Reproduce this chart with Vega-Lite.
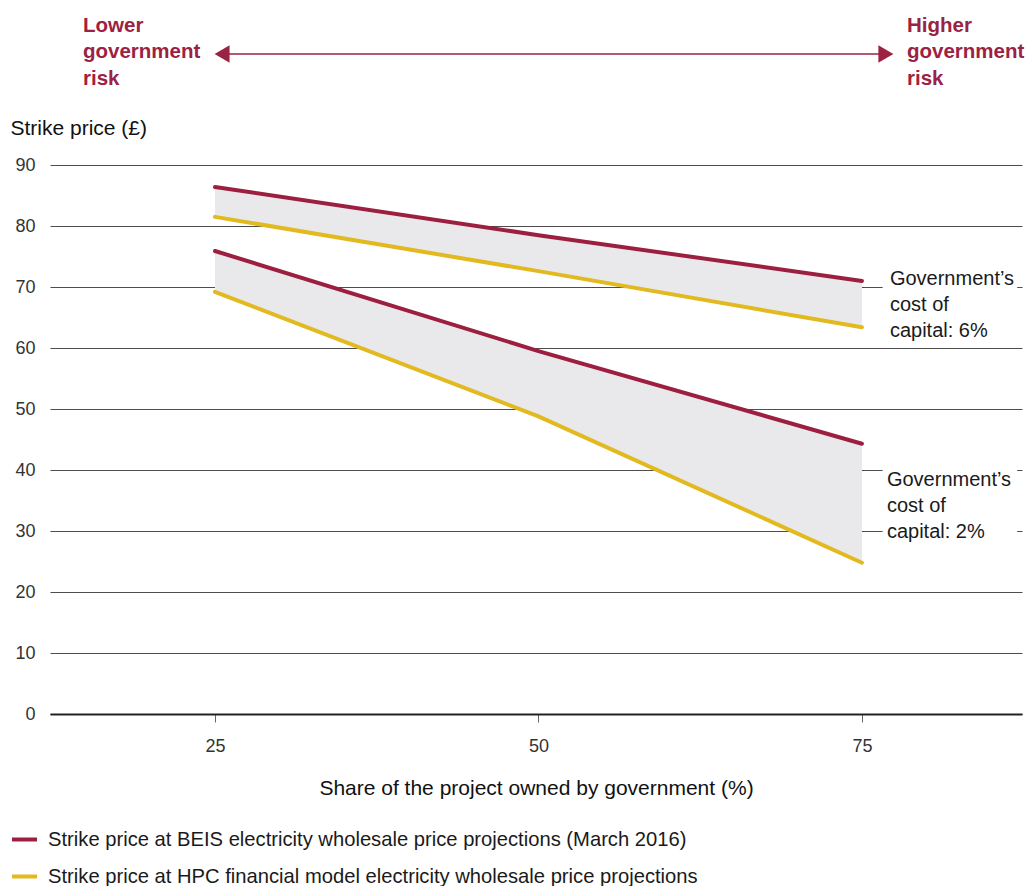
{
  "$schema": "https://vega.github.io/schema/vega-lite/v6.json",
  "width": 972,
  "height": 549,
  "autosize": {"type": "none"},
  "padding": {"left": 50, "top": 165, "right": 3, "bottom": 172},
  "background": "white",
  "config": {
    "font": "Liberation Sans",
    "view": {"stroke": null}
  },
  "data": {
    "values": [
      {"share": 25, "capital": "6%", "series": "BEIS", "price": 86.4},
      {"share": 50, "capital": "6%", "series": "BEIS", "price": 78.5},
      {"share": 75, "capital": "6%", "series": "BEIS", "price": 71.0},
      {"share": 25, "capital": "6%", "series": "HPC", "price": 81.5},
      {"share": 50, "capital": "6%", "series": "HPC", "price": 72.6},
      {"share": 75, "capital": "6%", "series": "HPC", "price": 63.4},
      {"share": 25, "capital": "2%", "series": "BEIS", "price": 75.9},
      {"share": 50, "capital": "2%", "series": "BEIS", "price": 59.5},
      {"share": 75, "capital": "2%", "series": "BEIS", "price": 44.3},
      {"share": 25, "capital": "2%", "series": "HPC", "price": 69.2},
      {"share": 50, "capital": "2%", "series": "HPC", "price": 48.8},
      {"share": 75, "capital": "2%", "series": "HPC", "price": 24.8}
    ]
  },
  "layer": [
    {
      "transform": [
        {"pivot": "series", "value": "price", "groupby": ["share", "capital"]}
      ],
      "mark": {"type": "area", "color": "#e9e9ec", "clip": false},
      "encoding": {
        "x": {
          "field": "share",
          "type": "quantitative",
          "scale": {"domain": [12.25, 87.37], "nice": false, "zero": false},
          "axis": {
            "values": [25, 50, 75],
            "grid": false,
            "domainColor": "#222222",
            "domainWidth": 2,
            "tickColor": "#666666",
            "tickSize": 8,
            "tickWidth": 1,
            "labelPadding": 15,
            "labelFontSize": 18,
            "labelColor": "#333333",
            "title": "Share of the project owned by government (%)",
            "titleFontSize": 21,
            "titleFontWeight": "normal",
            "titleColor": "#111111",
            "titlePadding": 22
          }
        },
        "y": {
          "field": "HPC",
          "type": "quantitative",
          "scale": {"domain": [0, 90], "nice": false},
          "axis": {
            "values": [0, 10, 20, 30, 40, 50, 60, 70, 80, 90],
            "grid": true,
            "gridColor": "#4d4d4d",
            "gridWidth": 1,
            "domain": false,
            "ticks": false,
            "tickSize": 0,
            "labelPadding": 15,
            "labelFontSize": 18,
            "labelColor": "#333333",
            "title": "Strike price (£)",
            "titleAngle": 0,
            "titleAlign": "left",
            "titleBaseline": "middle",
            "titleX": -40,
            "titleY": -37,
            "titleFontSize": 21,
            "titleFontWeight": "normal",
            "titleColor": "#111111"
          }
        },
        "y2": {"field": "BEIS"},
        "detail": {"field": "capital"}
      }
    },
    {
      "mark": {"type": "line", "strokeWidth": 4, "strokeCap": "round", "clip": false},
      "encoding": {
        "x": {"field": "share", "type": "quantitative"},
        "y": {"field": "price", "type": "quantitative"},
        "color": {
          "field": "series",
          "type": "nominal",
          "scale": {"domain": ["BEIS", "HPC"], "range": ["#9c1f40", "#e2b91f"]},
          "legend": {
            "orient": "none",
            "legendX": -40,
            "legendY": 660,
            "title": null,
            "symbolType": "stroke",
            "symbolSize": 625,
            "symbolStrokeWidth": 4,
            "labelFontSize": 20.2,
            "labelColor": "#1a1a1a",
            "labelLimit": 0,
            "labelOffset": 9,
            "rowPadding": 12,
            "labelExpr": "datum.label == 'BEIS' ? 'Strike price at BEIS electricity wholesale price projections (March 2016)' : 'Strike price at HPC financial model electricity wholesale price projections'"
          }
        },
        "detail": {"field": "capital"}
      }
    },
    {
      "data": {"values": [{}]},
      "mark": {"type": "rect", "color": "white", "clip": false},
      "encoding": {
        "x": {"datum": 76.6, "type": "quantitative"},
        "x2": {"datum": 87.0},
        "y": {"datum": 72, "type": "quantitative"},
        "y2": {"datum": 68}
      }
    },
    {
      "data": {"values": [{}]},
      "mark": {"type": "rect", "color": "white", "clip": false},
      "encoding": {
        "x": {"datum": 76.6, "type": "quantitative"},
        "x2": {"datum": 87.0},
        "y": {"datum": 41.5, "type": "quantitative"},
        "y2": {"datum": 28.5}
      }
    },
    {
      "data": {"values": [{}]},
      "mark": {"type": "text", "align": "left", "baseline": "middle", "fontSize": 20, "lineHeight": 26, "color": "#1a1a1a", "clip": false},
      "encoding": {
        "x": {"datum": 77.16, "type": "quantitative"},
        "y": {"datum": 71.23, "type": "quantitative"},
        "text": {"value": ["Government’s", "cost of", "capital: 6%"]}
      }
    },
    {
      "data": {"values": [{}]},
      "mark": {"type": "text", "align": "left", "baseline": "middle", "fontSize": 20, "lineHeight": 26, "color": "#1a1a1a", "clip": false},
      "encoding": {
        "x": {"datum": 76.93, "type": "quantitative"},
        "y": {"datum": 38.35, "type": "quantitative"},
        "text": {"value": ["Government’s", "cost of", "capital: 2%"]}
      }
    },
    {
      "data": {"values": [{}]},
      "mark": {"type": "rule", "color": "#9b2242", "strokeWidth": 1.5, "clip": false},
      "encoding": {
        "x": {"datum": 25.6, "type": "quantitative"},
        "x2": {"datum": 76.85},
        "y": {"datum": 108.2, "type": "quantitative"}
      }
    },
    {
      "data": {"values": [{}]},
      "mark": {"type": "point", "shape": "triangle-left", "filled": true, "size": 300, "color": "#9b2242", "opacity": 1, "clip": false},
      "encoding": {
        "x": {"datum": 25.55, "type": "quantitative"},
        "y": {"datum": 108.2, "type": "quantitative"}
      }
    },
    {
      "data": {"values": [{}]},
      "mark": {"type": "point", "shape": "triangle-right", "filled": true, "size": 300, "color": "#9b2242", "opacity": 1, "clip": false},
      "encoding": {
        "x": {"datum": 76.85, "type": "quantitative"},
        "y": {"datum": 108.2, "type": "quantitative"}
      }
    },
    {
      "data": {"values": [{}]},
      "mark": {"type": "text", "align": "left", "baseline": "middle", "fontSize": 20.5, "fontWeight": "bold", "lineHeight": 26.5, "color": "#9b2242", "clip": false},
      "encoding": {
        "x": {"datum": 14.8, "type": "quantitative"},
        "y": {"datum": 112.8, "type": "quantitative"},
        "text": {"value": ["Lower", "government", "risk"]}
      }
    },
    {
      "data": {"values": [{}]},
      "mark": {"type": "text", "align": "left", "baseline": "middle", "fontSize": 20.5, "fontWeight": "bold", "lineHeight": 26.5, "color": "#9b2242", "clip": false},
      "encoding": {
        "x": {"datum": 78.48, "type": "quantitative"},
        "y": {"datum": 112.8, "type": "quantitative"},
        "text": {"value": ["Higher", "government", "risk"]}
      }
    }
  ]
}
